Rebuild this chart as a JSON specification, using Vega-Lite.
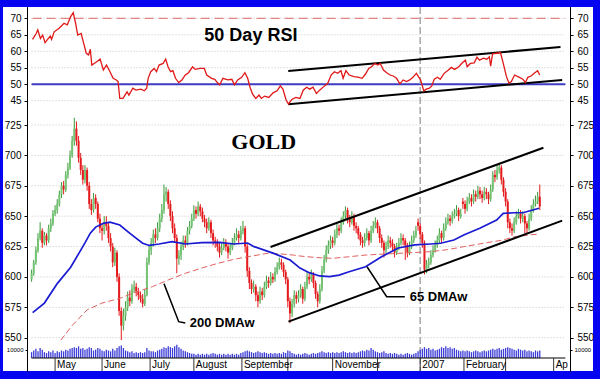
{
"$schema":"https://vega.github.io/schema/vega-lite/v6.json",
"width":590,"height":364,
"autosize":{"type":"none"},
"padding":{"left":3,"top":7,"right":7,"bottom":8},
"background":"#0404f0",
"config":{"view":{"fill":"#ffffff","stroke":null},"font":"Liberation Sans",
"axis":{"labelFont":"Liberation Sans","labelFontSize":10,"labelColor":"#000000","tickColor":"#000000","domainColor":"#000000","tickSize":3,"grid":false}},
"data":{"values":[{"k":1}]},
"datasets":{
"months":[{"i":11,"m":"May"},{"i":33,"m":"June"},{"i":55.5,"m":"July"},{"i":76,"m":"August"},{"i":98.5,"m":"September"},{"i":120,"m":""},{"i":141,"m":"November"},{"i":162,"m":""},{"i":182,"m":"2007"},{"i":202.5,"m":"February"},{"i":222,"m":""},{"i":244.5,"m":"Ap"}],
"rsigrid":[{"r":45},{"r":50},{"r":55},{"r":60},{"r":65},{"r":70}],
"pgrid":[{"p":550},{"p":575},{"p":600},{"p":625},{"p":650},{"p":675},{"p":700},{"p":725}],
"rsichan":[{"s":"u","i":120.2,"r":54.0},{"s":"u","i":247.7,"r":61.3},{"s":"l","i":120.2,"r":43.9},{"s":"l","i":248.5,"r":51.3}],
"chan":[{"s":"u","i":111.9,"p":624.6},{"s":"u","i":239.7,"p":706.3},{"s":"l","i":120.3,"p":563.2},{"s":"l","i":248.5,"p":646.3}],
"ptr":[{"s":"a","k":1,"i":62,"p":594.5},{"s":"a","k":2,"i":68.9,"p":563.2},{"s":"a","k":3,"i":72,"p":562.1},{"s":"b","k":1,"i":157.1,"p":608.4},{"s":"b","k":2,"i":166.3,"p":583.7},{"s":"b","k":3,"i":174.8,"p":583.7}],
"ma65":[{"i":0.5,"p":570.6},{"i":6,"p":578.5},{"i":12.1,"p":594.7},{"i":18.3,"p":608},{"i":22,"p":619},{"i":25,"p":628},{"i":27.5,"p":636},{"i":30,"p":641},{"i":33.6,"p":644.1},{"i":36.7,"p":645},{"i":41.3,"p":642.7},{"i":45.9,"p":636.1},{"i":52,"p":627.7},{"i":55.1,"p":625.9},{"i":59.7,"p":627.1},{"i":65.8,"p":629},{"i":72,"p":627.1},{"i":79.7,"p":628.3},{"i":88,"p":628.5},{"i":94.8,"p":627.1},{"i":101.2,"p":627.9},{"i":104.2,"p":624.9},{"i":113.4,"p":619.4},{"i":121.1,"p":613.9},{"i":125.7,"p":607.3},{"i":130,"p":603.5},{"i":134.9,"p":600.8},{"i":139.5,"p":600.2},{"i":144,"p":601.5},{"i":148.7,"p":604.3},{"i":156.4,"p":608.4},{"i":163.9,"p":616.6},{"i":171.7,"p":623.8},{"i":179.4,"p":626.3},{"i":186.9,"p":627.1},{"i":191.5,"p":627.7},{"i":197.8,"p":630.4},{"i":202.4,"p":634.5},{"i":209.9,"p":640},{"i":217.8,"p":646.8},{"i":220.9,"p":652.3},{"i":226,"p":652.8},{"i":230.1,"p":652.8},{"i":237.7,"p":656.5}],
"ma200":[{"i":13.7,"p":548},{"i":19,"p":560},{"i":25.9,"p":572.8},{"i":33,"p":578.5},{"i":41.3,"p":582.4},{"i":48,"p":587},{"i":56.6,"p":592},{"i":64,"p":597.5},{"i":72,"p":603},{"i":80,"p":607.5},{"i":87.3,"p":611.2},{"i":94,"p":614.2},{"i":101.2,"p":616.6},{"i":110.4,"p":619.4},{"i":116,"p":619},{"i":122.6,"p":618},{"i":125.7,"p":617.2},{"i":133,"p":616},{"i":140.9,"p":615.3},{"i":148,"p":616.5},{"i":156.4,"p":618},{"i":171.7,"p":619.4},{"i":186.9,"p":620.8},{"i":195,"p":622.5},{"i":202.4,"p":624.9},{"i":211.6,"p":627.7},{"i":220.9,"p":630.4},{"i":226,"p":633},{"i":233,"p":634.5},{"i":237.7,"p":635.3}],
"rsi":[{"i":0.46,"r":63.6},{"i":2.16,"r":65.4},{"i":2.9,"r":66.5},{"i":4.14,"r":63.9},{"i":5.2,"r":64.9},{"i":6.3,"r":62.6},{"i":7.5,"r":63.6},{"i":8.75,"r":64.6},{"i":9.35,"r":63.6},{"i":10.6,"r":65.9},{"i":12.9,"r":67},{"i":15.2,"r":68.5},{"i":16.7,"r":68},{"i":18.3,"r":70.5},{"i":19.5,"r":71.7},{"i":20.6,"r":68.5},{"i":21.6,"r":64.9},{"i":23.2,"r":65.4},{"i":24.4,"r":62.4},{"i":25.6,"r":59.4},{"i":26.7,"r":58.9},{"i":27.5,"r":60.6},{"i":28.2,"r":55.8},{"i":30.5,"r":56.8},{"i":32.1,"r":57.6},{"i":33.6,"r":54.3},{"i":35.1,"r":55.8},{"i":36.7,"r":53.8},{"i":38.2,"r":51.8},{"i":39.7,"r":51.3},{"i":40.5,"r":50.8},{"i":41.3,"r":45.7},{"i":42.8,"r":45.7},{"i":44.7,"r":47.7},{"i":45.6,"r":46.7},{"i":47.4,"r":48.8},{"i":48.9,"r":48.2},{"i":51.2,"r":48.5},{"i":52.8,"r":48},{"i":53.9,"r":48.8},{"i":54.6,"r":51.8},{"i":55.8,"r":53.8},{"i":57.4,"r":54.8},{"i":58.5,"r":53.8},{"i":59.7,"r":55.8},{"i":61.6,"r":56.3},{"i":62.8,"r":57.6},{"i":63.9,"r":55.3},{"i":65.1,"r":53.8},{"i":66.2,"r":54.1},{"i":67.4,"r":51.8},{"i":68.9,"r":50.5},{"i":70.4,"r":51.3},{"i":72,"r":52.8},{"i":73.5,"r":53.5},{"i":75.4,"r":55.3},{"i":76.6,"r":54.5},{"i":78.9,"r":54.8},{"i":80.9,"r":54.8},{"i":82,"r":52.8},{"i":84.3,"r":51.8},{"i":85.8,"r":51.5},{"i":87,"r":50.5},{"i":88.1,"r":49.8},{"i":89.6,"r":51.8},{"i":91.9,"r":51.3},{"i":93.8,"r":51.5},{"i":95,"r":49.8},{"i":96.5,"r":51.3},{"i":98.4,"r":52.1},{"i":99.9,"r":53.5},{"i":101.2,"r":51.8},{"i":102.3,"r":49.1},{"i":103.5,"r":47},{"i":105,"r":45.7},{"i":106.5,"r":46.7},{"i":107.6,"r":45.7},{"i":109.1,"r":46.4},{"i":111.1,"r":46},{"i":113.1,"r":47.4},{"i":115,"r":48},{"i":116.5,"r":49.5},{"i":117.7,"r":48.5},{"i":119.2,"r":45.2},{"i":120.3,"r":44},{"i":121.9,"r":45.4},{"i":123.8,"r":46},{"i":125.7,"r":45.7},{"i":127.2,"r":48.2},{"i":128.8,"r":49.1},{"i":130.3,"r":48.5},{"i":131.8,"r":49.1},{"i":133.4,"r":47.2},{"i":134.9,"r":48.2},{"i":137.2,"r":49.5},{"i":138.7,"r":50.3},{"i":140.3,"r":52.8},{"i":141.8,"r":53.8},{"i":143.3,"r":53.3},{"i":144.9,"r":54.1},{"i":145.9,"r":51.8},{"i":147.2,"r":54.1},{"i":148.7,"r":52.8},{"i":151,"r":52.3},{"i":153.3,"r":52.1},{"i":154.8,"r":51.8},{"i":156.4,"r":53.1},{"i":157.9,"r":54.8},{"i":159.2,"r":55.3},{"i":160.7,"r":56.3},{"i":162.2,"r":55.8},{"i":163.3,"r":56.3},{"i":164.8,"r":54.3},{"i":166.3,"r":53.5},{"i":167.9,"r":52.8},{"i":169.4,"r":52.5},{"i":170.9,"r":51.8},{"i":172.5,"r":50.1},{"i":174,"r":51.3},{"i":175.6,"r":50.8},{"i":177.1,"r":51.3},{"i":178.6,"r":52.1},{"i":180.2,"r":53.3},{"i":182.2,"r":51.3},{"i":183.7,"r":48},{"i":184.8,"r":48.5},{"i":186.3,"r":48.8},{"i":187.4,"r":49.5},{"i":188.6,"r":51.5},{"i":190.1,"r":52.1},{"i":191.4,"r":51.5},{"i":193.2,"r":53.3},{"i":194.8,"r":54.1},{"i":196.6,"r":55.1},{"i":198.1,"r":54.5},{"i":200.1,"r":55.3},{"i":201.7,"r":56.5},{"i":203.2,"r":57.3},{"i":204,"r":55.3},{"i":205.5,"r":56.3},{"i":207.3,"r":56.5},{"i":208.6,"r":58.2},{"i":209.8,"r":57.3},{"i":211.6,"r":57.9},{"i":213.2,"r":57.6},{"i":214.4,"r":58.3},{"i":215,"r":55.5},{"i":215.9,"r":59.2},{"i":217.8,"r":59.4},{"i":219.6,"r":59.6},{"i":220.9,"r":56.3},{"i":222.4,"r":52.3},{"i":223.6,"r":50.3},{"i":224.7,"r":50.8},{"i":226.2,"r":52.8},{"i":227.8,"r":52.3},{"i":230.1,"r":51.5},{"i":231.3,"r":50.5},{"i":232.4,"r":52.1},{"i":233.9,"r":52.5},{"i":235.4,"r":53.3},{"i":237,"r":54.1},{"i":238,"r":52.8}],
"candles":[
{"i":0,"o":598,"h":606,"l":596,"c":603,"v":7000},{"i":1,"o":603,"h":614,"l":601,"c":612,"v":9000},{"i":2,"o":612,"h":625,"l":610,"c":622,"v":11000},{"i":3,"o":622,"h":636,"l":620,"c":632,"v":8000},{"i":4,"o":632,"h":645,"l":630,"c":638,"v":12000},{"i":5,"o":638,"h":640,"l":624,"c":628,"v":10000},{"i":6,"o":628,"h":637,"l":626,"c":634,"v":7000},{"i":7,"o":634,"h":636,"l":626,"c":630,"v":6000},{"i":8,"o":630,"h":643,"l":628,"c":640,"v":8000},{"i":9,"o":640,"h":648,"l":637,"c":644,"v":7000},
{"i":10,"o":644,"h":655,"l":642,"c":652,"v":9000},{"i":11,"o":652,"h":659,"l":650,"c":655,"v":6000},{"i":12,"o":655,"h":664,"l":652,"c":660,"v":8000},{"i":13,"o":660,"h":671,"l":658,"c":668,"v":7000},{"i":14,"o":668,"h":678,"l":665,"c":675,"v":9000},{"i":15,"o":675,"h":679,"l":668,"c":672,"v":8000},{"i":16,"o":672,"h":687,"l":670,"c":684,"v":10000},{"i":17,"o":684,"h":694,"l":681,"c":690,"v":9000},{"i":18,"o":690,"h":704,"l":688,"c":700,"v":11000},{"i":19,"o":700,"h":716,"l":698,"c":712,"v":12000},
{"i":20,"o":712,"h":731,"l":708,"c":722,"v":13000},{"i":21,"o":722,"h":728,"l":708,"c":712,"v":12000},{"i":22,"o":712,"h":716,"l":694,"c":698,"v":14000},{"i":23,"o":698,"h":702,"l":684,"c":688,"v":11000},{"i":24,"o":688,"h":692,"l":676,"c":680,"v":12000},{"i":25,"o":680,"h":692,"l":677,"c":688,"v":10000},{"i":26,"o":688,"h":690,"l":671,"c":675,"v":11000},{"i":27,"o":675,"h":678,"l":656,"c":660,"v":13000},{"i":28,"o":660,"h":664,"l":651,"c":655,"v":12000},{"i":29,"o":655,"h":669,"l":653,"c":665,"v":9000},
{"i":30,"o":665,"h":668,"l":656,"c":660,"v":10000},{"i":31,"o":660,"h":662,"l":645,"c":648,"v":12000},{"i":32,"o":648,"h":652,"l":636,"c":640,"v":11000},{"i":33,"o":640,"h":644,"l":630,"c":638,"v":9000},{"i":34,"o":638,"h":650,"l":635,"c":645,"v":8000},{"i":35,"o":645,"h":650,"l":638,"c":642,"v":10000},{"i":36,"o":642,"h":645,"l":628,"c":632,"v":9000},{"i":37,"o":632,"h":636,"l":621,"c":625,"v":8000},{"i":38,"o":625,"h":628,"l":608,"c":612,"v":11000},{"i":39,"o":612,"h":624,"l":609,"c":620,"v":9000},
{"i":40,"o":620,"h":622,"l":596,"c":600,"v":12000},{"i":41,"o":600,"h":603,"l":568,"c":572,"v":14000},{"i":42,"o":572,"h":575,"l":548,"c":560,"v":15000},{"i":43,"o":560,"h":574,"l":556,"c":568,"v":12000},{"i":44,"o":568,"h":580,"l":564,"c":575,"v":9000},{"i":45,"o":575,"h":588,"l":572,"c":583,"v":8000},{"i":46,"o":583,"h":589,"l":576,"c":580,"v":7000},{"i":47,"o":580,"h":594,"l":578,"c":590,"v":8000},{"i":48,"o":590,"h":597,"l":587,"c":592,"v":6000},{"i":49,"o":592,"h":595,"l":584,"c":588,"v":7000},
{"i":50,"o":588,"h":591,"l":581,"c":585,"v":6000},{"i":51,"o":585,"h":588,"l":579,"c":582,"v":7000},{"i":52,"o":582,"h":586,"l":575,"c":578,"v":6000},{"i":53,"o":578,"h":590,"l":576,"c":585,"v":7000},{"i":54,"o":585,"h":616,"l":584,"c":612,"v":12000},{"i":55,"o":612,"h":626,"l":610,"c":622,"v":9000},{"i":56,"o":622,"h":632,"l":618,"c":628,"v":8000},{"i":57,"o":628,"h":639,"l":625,"c":635,"v":8000},{"i":58,"o":635,"h":640,"l":628,"c":632,"v":7000},{"i":59,"o":632,"h":645,"l":630,"c":640,"v":9000},
{"i":60,"o":640,"h":652,"l":637,"c":648,"v":10000},{"i":61,"o":648,"h":660,"l":645,"c":655,"v":11000},{"i":62,"o":655,"h":676,"l":652,"c":668,"v":13000},{"i":63,"o":668,"h":674,"l":662,"c":670,"v":12000},{"i":64,"o":670,"h":672,"l":656,"c":660,"v":14000},{"i":65,"o":660,"h":663,"l":646,"c":650,"v":13000},{"i":66,"o":650,"h":654,"l":636,"c":640,"v":12000},{"i":67,"o":640,"h":644,"l":628,"c":632,"v":14000},{"i":68,"o":632,"h":635,"l":603,"c":615,"v":16000},{"i":69,"o":615,"h":622,"l":610,"c":618,"v":13000},
{"i":70,"o":618,"h":629,"l":614,"c":625,"v":11000},{"i":71,"o":625,"h":634,"l":622,"c":630,"v":9000},{"i":72,"o":630,"h":634,"l":624,"c":628,"v":8000},{"i":73,"o":628,"h":641,"l":626,"c":638,"v":7000},{"i":74,"o":638,"h":646,"l":635,"c":642,"v":6000},{"i":75,"o":642,"h":652,"l":640,"c":648,"v":5000},{"i":76,"o":648,"h":659,"l":646,"c":655,"v":5000},{"i":77,"o":655,"h":658,"l":648,"c":652,"v":4000},{"i":78,"o":652,"h":662,"l":650,"c":658,"v":5000},{"i":79,"o":658,"h":660,"l":650,"c":654,"v":4000},
{"i":80,"o":654,"h":657,"l":645,"c":648,"v":5000},{"i":81,"o":648,"h":651,"l":641,"c":645,"v":4000},{"i":82,"o":645,"h":648,"l":636,"c":640,"v":5000},{"i":83,"o":640,"h":649,"l":638,"c":645,"v":4000},{"i":84,"o":645,"h":647,"l":632,"c":636,"v":5000},{"i":85,"o":636,"h":639,"l":626,"c":630,"v":6000},{"i":86,"o":630,"h":633,"l":624,"c":628,"v":5000},{"i":87,"o":628,"h":631,"l":621,"c":625,"v":4000},{"i":88,"o":625,"h":628,"l":616,"c":620,"v":5000},{"i":89,"o":620,"h":628,"l":618,"c":624,"v":4000},
{"i":90,"o":624,"h":632,"l":622,"c":628,"v":5000},{"i":91,"o":628,"h":631,"l":621,"c":625,"v":4000},{"i":92,"o":625,"h":627,"l":615,"c":620,"v":5000},{"i":93,"o":620,"h":628,"l":618,"c":624,"v":4000},{"i":94,"o":624,"h":632,"l":622,"c":628,"v":5000},{"i":95,"o":628,"h":636,"l":626,"c":632,"v":4000},{"i":96,"o":632,"h":640,"l":630,"c":635,"v":5000},{"i":97,"o":635,"h":638,"l":628,"c":632,"v":4000},{"i":98,"o":632,"h":642,"l":630,"c":638,"v":6000},{"i":99,"o":638,"h":646,"l":635,"c":640,"v":7000},
{"i":100,"o":640,"h":642,"l":620,"c":625,"v":8000},{"i":101,"o":625,"h":627,"l":600,"c":605,"v":9000},{"i":102,"o":605,"h":608,"l":590,"c":595,"v":8000},{"i":103,"o":595,"h":598,"l":586,"c":590,"v":7000},{"i":104,"o":590,"h":597,"l":587,"c":592,"v":6000},{"i":105,"o":592,"h":594,"l":580,"c":585,"v":7000},{"i":106,"o":585,"h":588,"l":575,"c":580,"v":8000},{"i":107,"o":580,"h":592,"l":578,"c":588,"v":7000},{"i":108,"o":588,"h":591,"l":581,"c":585,"v":6000},{"i":109,"o":585,"h":596,"l":583,"c":592,"v":7000},
{"i":110,"o":592,"h":601,"l":590,"c":597,"v":6000},{"i":111,"o":597,"h":600,"l":591,"c":595,"v":5000},{"i":112,"o":595,"h":604,"l":593,"c":600,"v":6000},{"i":113,"o":600,"h":603,"l":595,"c":598,"v":5000},{"i":114,"o":598,"h":608,"l":596,"c":604,"v":6000},{"i":115,"o":604,"h":612,"l":602,"c":608,"v":5000},{"i":116,"o":608,"h":616,"l":606,"c":612,"v":6000},{"i":117,"o":612,"h":615,"l":606,"c":610,"v":5000},{"i":118,"o":610,"h":612,"l":600,"c":604,"v":7000},{"i":119,"o":604,"h":606,"l":594,"c":598,"v":6000},
{"i":120,"o":598,"h":600,"l":575,"c":580,"v":9000},{"i":121,"o":580,"h":583,"l":562,"c":570,"v":8000},{"i":122,"o":570,"h":582,"l":567,"c":578,"v":6000},{"i":123,"o":578,"h":589,"l":575,"c":585,"v":5000},{"i":124,"o":585,"h":588,"l":578,"c":582,"v":4000},{"i":125,"o":582,"h":589,"l":579,"c":585,"v":5000},{"i":126,"o":585,"h":594,"l":583,"c":590,"v":4000},{"i":127,"o":590,"h":592,"l":578,"c":582,"v":5000},{"i":128,"o":582,"h":596,"l":580,"c":592,"v":6000},{"i":129,"o":592,"h":604,"l":590,"c":600,"v":5000},
{"i":130,"o":600,"h":603,"l":594,"c":598,"v":4000},{"i":131,"o":598,"h":606,"l":596,"c":602,"v":5000},{"i":132,"o":602,"h":604,"l":591,"c":595,"v":6000},{"i":133,"o":595,"h":597,"l":582,"c":586,"v":5000},{"i":134,"o":586,"h":588,"l":575,"c":580,"v":6000},{"i":135,"o":580,"h":594,"l":578,"c":590,"v":7000},{"i":136,"o":590,"h":609,"l":588,"c":605,"v":8000},{"i":137,"o":605,"h":618,"l":603,"c":614,"v":7000},{"i":138,"o":614,"h":626,"l":612,"c":622,"v":6000},{"i":139,"o":622,"h":630,"l":619,"c":626,"v":7000},
{"i":140,"o":626,"h":634,"l":623,"c":630,"v":6000},{"i":141,"o":630,"h":633,"l":624,"c":628,"v":7000},{"i":142,"o":628,"h":639,"l":626,"c":635,"v":6000},{"i":143,"o":635,"h":644,"l":632,"c":640,"v":7000},{"i":144,"o":640,"h":643,"l":634,"c":638,"v":6000},{"i":145,"o":638,"h":649,"l":636,"c":645,"v":7000},{"i":146,"o":645,"h":654,"l":643,"c":650,"v":8000},{"i":147,"o":650,"h":658,"l":647,"c":655,"v":7000},{"i":148,"o":655,"h":657,"l":644,"c":648,"v":6000},{"i":149,"o":648,"h":651,"l":641,"c":645,"v":7000},
{"i":150,"o":645,"h":654,"l":643,"c":650,"v":6000},{"i":151,"o":650,"h":652,"l":638,"c":642,"v":7000},{"i":152,"o":642,"h":645,"l":636,"c":640,"v":6000},{"i":153,"o":640,"h":642,"l":631,"c":635,"v":7000},{"i":154,"o":635,"h":637,"l":626,"c":630,"v":8000},{"i":155,"o":630,"h":633,"l":624,"c":628,"v":9000},{"i":156,"o":628,"h":636,"l":625,"c":632,"v":8000},{"i":157,"o":632,"h":640,"l":630,"c":636,"v":10000},{"i":158,"o":636,"h":638,"l":626,"c":630,"v":9000},{"i":159,"o":630,"h":642,"l":628,"c":638,"v":12000},
{"i":160,"o":638,"h":646,"l":636,"c":642,"v":10000},{"i":161,"o":642,"h":649,"l":640,"c":645,"v":8000},{"i":162,"o":645,"h":647,"l":636,"c":640,"v":7000},{"i":163,"o":640,"h":642,"l":628,"c":632,"v":6000},{"i":164,"o":632,"h":635,"l":624,"c":628,"v":7000},{"i":165,"o":628,"h":630,"l":616,"c":622,"v":8000},{"i":166,"o":622,"h":629,"l":619,"c":625,"v":6000},{"i":167,"o":625,"h":634,"l":623,"c":630,"v":5000},{"i":168,"o":630,"h":633,"l":624,"c":628,"v":6000},{"i":169,"o":628,"h":631,"l":621,"c":625,"v":5000},
{"i":170,"o":625,"h":627,"l":616,"c":620,"v":6000},{"i":171,"o":620,"h":628,"l":618,"c":624,"v":5000},{"i":172,"o":624,"h":632,"l":622,"c":628,"v":4000},{"i":173,"o":628,"h":636,"l":626,"c":632,"v":5000},{"i":174,"o":632,"h":635,"l":626,"c":630,"v":4000},{"i":175,"o":630,"h":632,"l":614,"c":626,"v":5000},{"i":176,"o":626,"h":628,"l":616,"c":620,"v":6000},{"i":177,"o":620,"h":629,"l":618,"c":625,"v":5000},{"i":178,"o":625,"h":634,"l":623,"c":630,"v":4000},{"i":179,"o":630,"h":638,"l":628,"c":634,"v":5000},
{"i":180,"o":634,"h":642,"l":632,"c":638,"v":6000},{"i":181,"o":645,"h":648,"l":638,"c":642,"v":8000},{"i":182,"o":642,"h":644,"l":631,"c":635,"v":10000},{"i":183,"o":635,"h":637,"l":624,"c":628,"v":11000},{"i":184,"o":628,"h":630,"l":602,"c":606,"v":13000},{"i":185,"o":606,"h":614,"l":603,"c":610,"v":11000},{"i":186,"o":610,"h":616,"l":607,"c":612,"v":12000},{"i":187,"o":612,"h":622,"l":610,"c":618,"v":10000},{"i":188,"o":618,"h":626,"l":616,"c":622,"v":11000},{"i":189,"o":622,"h":630,"l":620,"c":626,"v":9000},
{"i":190,"o":626,"h":634,"l":624,"c":630,"v":10000},{"i":191,"o":630,"h":640,"l":628,"c":636,"v":11000},{"i":192,"o":636,"h":638,"l":628,"c":632,"v":13000},{"i":193,"o":632,"h":644,"l":630,"c":640,"v":12000},{"i":194,"o":640,"h":649,"l":638,"c":645,"v":14000},{"i":195,"o":645,"h":652,"l":643,"c":648,"v":12000},{"i":196,"o":648,"h":651,"l":642,"c":646,"v":13000},{"i":197,"o":646,"h":654,"l":644,"c":650,"v":11000},{"i":198,"o":650,"h":656,"l":648,"c":652,"v":12000},{"i":199,"o":652,"h":659,"l":650,"c":655,"v":10000},
{"i":200,"o":655,"h":657,"l":646,"c":650,"v":9000},{"i":201,"o":650,"h":656,"l":648,"c":652,"v":8000},{"i":202,"o":662,"h":665,"l":656,"c":660,"v":9000},{"i":203,"o":660,"h":663,"l":652,"c":656,"v":8000},{"i":204,"o":656,"h":666,"l":654,"c":662,"v":9000},{"i":205,"o":662,"h":669,"l":660,"c":665,"v":8000},{"i":206,"o":665,"h":668,"l":658,"c":662,"v":7000},{"i":207,"o":662,"h":672,"l":660,"c":668,"v":8000},{"i":208,"o":668,"h":671,"l":662,"c":666,"v":9000},{"i":209,"o":666,"h":675,"l":664,"c":671,"v":8000},
{"i":210,"o":671,"h":674,"l":664,"c":668,"v":7000},{"i":211,"o":668,"h":671,"l":661,"c":665,"v":8000},{"i":212,"o":665,"h":674,"l":663,"c":670,"v":9000},{"i":213,"o":670,"h":673,"l":664,"c":668,"v":8000},{"i":214,"o":668,"h":670,"l":660,"c":664,"v":9000},{"i":215,"o":664,"h":676,"l":662,"c":672,"v":10000},{"i":216,"o":672,"h":687,"l":670,"c":684,"v":11000},{"i":217,"o":684,"h":688,"l":678,"c":682,"v":10000},{"i":218,"o":682,"h":692,"l":680,"c":688,"v":11000},{"i":219,"o":688,"h":694,"l":685,"c":690,"v":12000},
{"i":220,"o":690,"h":692,"l":676,"c":680,"v":10000},{"i":221,"o":680,"h":682,"l":666,"c":670,"v":11000},{"i":222,"o":670,"h":673,"l":658,"c":662,"v":12000},{"i":223,"o":662,"h":664,"l":640,"c":645,"v":13000},{"i":224,"o":645,"h":648,"l":636,"c":640,"v":12000},{"i":225,"o":640,"h":644,"l":634,"c":638,"v":11000},{"i":226,"o":638,"h":649,"l":636,"c":645,"v":10000},{"i":227,"o":645,"h":654,"l":643,"c":650,"v":9000},{"i":228,"o":650,"h":656,"l":648,"c":652,"v":11000},{"i":229,"o":652,"h":655,"l":644,"c":648,"v":10000},
{"i":230,"o":648,"h":654,"l":645,"c":650,"v":9000},{"i":231,"o":650,"h":652,"l":636,"c":644,"v":10000},{"i":232,"o":644,"h":646,"l":636,"c":640,"v":8000},{"i":233,"o":640,"h":652,"l":638,"c":648,"v":9000},{"i":234,"o":648,"h":659,"l":646,"c":655,"v":8000},{"i":235,"o":655,"h":664,"l":653,"c":660,"v":7000},{"i":236,"o":660,"h":667,"l":658,"c":662,"v":9000},{"i":237,"o":662,"h":670,"l":660,"c":666,"v":8000},{"i":238,"o":666,"h":676,"l":655,"c":658,"v":9000}
]},
"layer":[
{"layer":[
 {"data":{"name":"rsigrid"},"mark":{"type":"rule","color":"#c4c4c4","strokeDash":[1,2]},
  "encoding":{"y":{"field":"r","type":"quantitative","scale":{"domain":[-37.0,73.43],"nice":false,"zero":false},"axis":{"orient":"left","offset":-24,"values":[45,50,55,60,65,70],"title":null,"labelPadding":3}},
   "x":{"datum":0,"type":"quantitative","scale":{"domain":[-11.05,260.59],"nice":false,"zero":false},"axis":null},"x2":{"datum":250}}},
 {"mark":{"type":"rule","color":"#e36b6b","strokeDash":[9,5],"strokeWidth":1},
  "encoding":{"y":{"datum":70,"type":"quantitative","axis":null},"x":{"datum":0.5,"type":"quantitative","axis":null},"x2":{"datum":250}}},
 {"mark":{"type":"rule","color":"#3c3cc4","strokeWidth":2},
  "encoding":{"y":{"datum":50,"type":"quantitative","axis":null},"x":{"datum":0,"type":"quantitative","axis":null},"x2":{"datum":250}}},
 {"mark":{"type":"rule","color":"#a8a8a8","strokeWidth":1.5,"strokeDash":[7,3]},
  "encoding":{"x":{"datum":182,"type":"quantitative","axis":null}}},
 {"data":{"name":"rsichan"},"mark":{"type":"line","color":"#000000","strokeWidth":2},
  "encoding":{"x":{"field":"i","type":"quantitative","axis":null},"y":{"field":"r","type":"quantitative","axis":null},"detail":{"field":"s"}}},
 {"data":{"name":"rsi"},"mark":{"type":"line","color":"#e01818","strokeWidth":1.3},
  "encoding":{"x":{"field":"i","type":"quantitative","axis":null},"y":{"field":"r","type":"quantitative","axis":{"orient":"right","offset":-23,"values":[45,50,55,60,65,70],"title":null,"labelPadding":4}}}},
 {"mark":{"type":"text","text":"50 Day RSI","font":"Liberation Sans","fontWeight":"bold","fontSize":18,"color":"#000000","align":"center","baseline":"middle"},
  "encoding":{"x":{"datum":102.7,"type":"quantitative","axis":null},"y":{"datum":64.6,"type":"quantitative","axis":null}}}
 ],
 "resolve":{"axis":{"y":"independent"}}},
{"layer":[
 {"data":{"name":"pgrid"},"mark":{"type":"rule","color":"#c4c4c4","strokeDash":[1,2]},
  "encoding":{"y":{"field":"p","type":"quantitative","scale":{"domain":[522.6,822.1],"nice":false,"zero":false},"axis":{"orient":"left","offset":-24,"values":[550,575,600,625,650,675,700,725],"title":null,"labelPadding":3}},
   "x":{"datum":0,"type":"quantitative","axis":null},"x2":{"datum":250}}},
 {"data":{"name":"candles"},"mark":{"type":"rule","strokeWidth":1},
  "encoding":{"x":{"field":"i","type":"quantitative","scale":{"domain":[-11.05,260.59],"nice":false,"zero":false},
    "axis":{"orient":"bottom","values":[11,33,55.5,76,98.5,120,141,162,182,202.5,222,244.5],
     "labels":false,"ticks":false,"grid":true,"gridColor":"#c4c4c4","gridDash":[1,2],"domain":false,"title":null}},
   "y":{"field":"l","type":"quantitative","axis":null},"y2":{"field":"h"},
   "color":{"condition":{"test":"datum.c >= datum.o","value":"#3a9a3a"},"value":"#e41a1c"}}},
 {"data":{"name":"candles"},"mark":{"type":"bar","width":2},
  "encoding":{"x":{"field":"i","type":"quantitative","axis":null},"y":{"field":"o","type":"quantitative","axis":null},"y2":{"field":"c"},
   "color":{"condition":{"test":"datum.c >= datum.o","value":"#74c474"},"value":"#e41a1c"}}},
 {"data":{"name":"ma200"},"mark":{"type":"line","color":"#e06060","strokeWidth":1,"strokeDash":[6,3]},
  "encoding":{"x":{"field":"i","type":"quantitative","axis":null},"y":{"field":"p","type":"quantitative","axis":null}}},
 {"data":{"name":"ma65"},"mark":{"type":"line","color":"#1a1ad2","strokeWidth":1.7},
  "encoding":{"x":{"field":"i","type":"quantitative","axis":null},"y":{"field":"p","type":"quantitative","axis":null}}},
 {"data":{"name":"chan"},"mark":{"type":"line","color":"#000000","strokeWidth":2},
  "encoding":{"x":{"field":"i","type":"quantitative","axis":null},"y":{"field":"p","type":"quantitative","axis":null},"detail":{"field":"s"}}},
 {"data":{"name":"ptr"},"mark":{"type":"line","color":"#000000","strokeWidth":1.5},
  "encoding":{"x":{"field":"i","type":"quantitative","axis":null},"y":{"field":"p","type":"quantitative","axis":{"orient":"right","offset":-23,"values":[550,575,600,625,650,675,700,725],"title":null,"labelPadding":4}},"detail":{"field":"s"},"order":{"field":"k"}}},
 {"mark":{"type":"text","text":"GOLD","font":"Liberation Serif","fontWeight":"bold","fontSize":22,"color":"#000000","align":"center","baseline":"middle"},
  "encoding":{"x":{"datum":108.7,"type":"quantitative","axis":null},"y":{"datum":711.3,"type":"quantitative","axis":null}}},
 {"mark":{"type":"text","text":"200 DMAw","font":"Liberation Sans","fontWeight":"bold","fontSize":13,"color":"#000000","align":"left","baseline":"middle"},
  "encoding":{"x":{"datum":74.1,"type":"quantitative","axis":null},"y":{"datum":562.1,"type":"quantitative","axis":null}}},
 {"mark":{"type":"text","text":"65 DMAw","font":"Liberation Sans","fontWeight":"bold","fontSize":13,"color":"#000000","align":"left","baseline":"middle"},
  "encoding":{"x":{"datum":177.1,"type":"quantitative","axis":null},"y":{"datum":583.7,"type":"quantitative","axis":null}}}
 ],
 "resolve":{"axis":{"y":"independent"}}},
{"layer":[
 {"data":{"name":"candles"},"mark":{"type":"rule","color":"#3c3cd6","strokeWidth":1.3},
  "encoding":{"x":{"field":"i","type":"quantitative","axis":null},
   "y":{"field":"v","type":"quantitative","scale":{"domain":[-15600,421200],"nice":false,"zero":false},"axis":{"orient":"left","offset":-24,"values":[10000],"format":"d","labelFontSize":6,"tickSize":2,"labelPadding":2,"title":null}},
   "y2":{"datum":0}}},
 {"mark":{"type":"rule","color":"#000000","strokeWidth":1},
  "encoding":{"y":{"datum":0,"type":"quantitative","axis":{"orient":"right","offset":-23,"values":[10000],"format":"d","labelFontSize":6,"tickSize":2,"labelPadding":2,"title":null}},"x":{"datum":0,"type":"quantitative","axis":null},"x2":{"datum":250}}},
 {"data":{"name":"months"},"mark":{"type":"rule","color":"#333333","strokeWidth":1},
  "encoding":{"x":{"field":"i","type":"quantitative","axis":null},"y":{"datum":0,"type":"quantitative","axis":null},"y2":{"datum":-15600}}},
 {"data":{"name":"months"},"mark":{"type":"text","font":"Liberation Sans","fontSize":10,"color":"#000000","align":"left","baseline":"top","dx":2},
  "encoding":{"x":{"field":"i","type":"quantitative","axis":null},"y":{"datum":-2200,"type":"quantitative","axis":null},"text":{"field":"m"}}}
 ],
 "resolve":{"axis":{"y":"independent"}}}
],
"resolve":{"scale":{"y":"independent"},"axis":{"y":"independent"}}
}
